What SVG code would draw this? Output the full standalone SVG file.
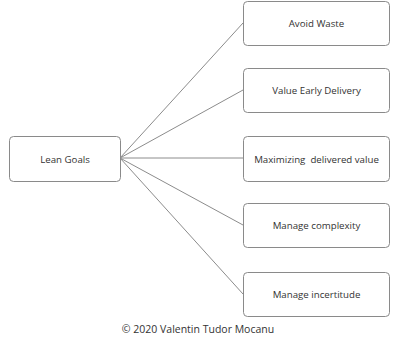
<svg xmlns="http://www.w3.org/2000/svg" width="400" height="341" viewBox="0 0 400 341">
<style>
.box{fill:#fff;stroke:#8a8a8a;stroke-width:1}
.lbl{font-family:"Open Sans","Liberation Sans",sans-serif;font-size:9.7px;fill:#333;text-anchor:middle;dominant-baseline:central}
.con{stroke:#8c8c8c;stroke-width:1;fill:none}
.foot{font-family:"Open Sans","Liberation Sans",sans-serif;font-size:10.5px;fill:#333;text-anchor:middle}
</style>
<rect width="400" height="341" fill="#fff"/>
<g id="connectors">
<line class="con" x1="120" y1="158" x2="243" y2="23"/>
<line class="con" x1="120" y1="158" x2="243" y2="90"/>
<line class="con" x1="120" y1="158" x2="243" y2="158"/>
<line class="con" x1="120" y1="158" x2="243" y2="225"/>
<line class="con" x1="120" y1="158" x2="243" y2="294"/>
</g>
<g id="lean-goals">
<rect class="box" x="9.5" y="136.5" width="111" height="45" rx="4"/>
<text class="lbl" x="65" y="159">Lean Goals</text>
</g>
<g id="avoid-waste">
<rect class="box" x="243.5" y="1.5" width="146" height="44" rx="4"/>
<text class="lbl" x="316.5" y="23">Avoid Waste</text>
</g>
<g id="value-early-delivery">
<rect class="box" x="243.5" y="68.5" width="146" height="44" rx="4"/>
<text class="lbl" x="316.5" y="90">Value Early Delivery</text>
</g>
<g id="maximizing">
<rect class="box" x="243.5" y="136.5" width="146" height="45" rx="4"/>
<text class="lbl" x="316.5" y="159" xml:space="preserve">Maximizing  delivered value</text>
</g>
<g id="manage-complexity">
<rect class="box" x="243.5" y="203.5" width="146" height="44" rx="4"/>
<text class="lbl" x="316.5" y="225">Manage complexity</text>
</g>
<g id="manage-incertitude">
<rect class="box" x="243.5" y="272.5" width="146" height="44" rx="4"/>
<text class="lbl" x="316.5" y="294">Manage incertitude</text>
</g>
<text class="foot" x="198" y="333">© 2020 Valentin Tudor Mocanu</text>
</svg>
